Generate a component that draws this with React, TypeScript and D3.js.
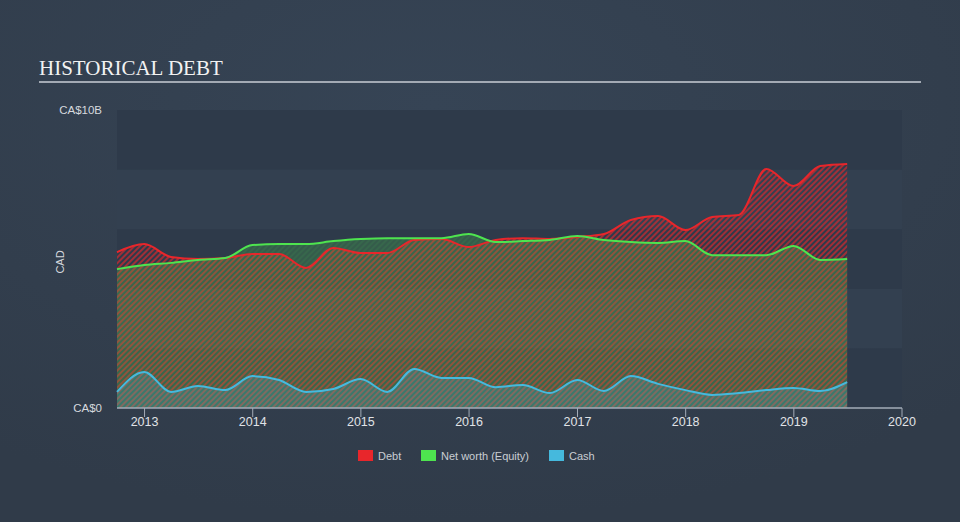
import React from "react";
import * as d3 from "d3";

const quarters: string[] = [
  "2012-09-30", "2012-12-31", "2013-03-31", "2013-06-30", "2013-09-30", "2013-12-31",
  "2014-03-31", "2014-06-30", "2014-09-30", "2014-12-31", "2015-03-31", "2015-06-30",
  "2015-09-30", "2015-12-31", "2016-03-31", "2016-06-30", "2016-09-30", "2016-12-31",
  "2017-03-31", "2017-06-30", "2017-09-30", "2017-12-31", "2018-03-31", "2018-06-30",
  "2018-09-30", "2018-12-31", "2019-03-31", "2019-06-30",
];

const debt: number[] = [
  5.23, 5.5, 5.07, 5.0, 5.03, 5.17, 5.17, 4.7, 5.37, 5.2, 5.2, 5.64, 5.67, 5.4,
  5.64, 5.7, 5.67, 5.74, 5.84, 6.31, 6.44, 5.97, 6.41, 6.48, 8.02, 7.45, 8.12, 8.19,
];

const equity: number[] = [
  4.66, 4.8, 4.87, 4.97, 5.03, 5.47, 5.5, 5.5, 5.6, 5.67, 5.7, 5.7, 5.7, 5.84,
  5.57, 5.6, 5.64, 5.77, 5.64, 5.57, 5.54, 5.6, 5.13, 5.13, 5.13, 5.44, 4.97, 5.0,
];

const cash: number[] = [
  0.54, 1.21, 0.54, 0.74, 0.6, 1.07, 0.94, 0.54, 0.64, 0.97, 0.54, 1.31, 1.01, 1.01,
  0.7, 0.77, 0.5, 0.94, 0.57, 1.07, 0.81, 0.6, 0.44, 0.5, 0.6, 0.67, 0.57, 0.87,
];

const xTicks: number[] = [2013, 2014, 2015, 2016, 2017, 2018, 2019, 2020];
const yTickLabels: string[] = ["CA$0", "CA$10B"];
const yTickValues: number[] = [0, 10];
const bandValues: number[] = [0, 2, 4, 6, 8];

const legendItems = [
  { label: "Debt", color: "#e8262b" },
  { label: "Net worth (Equity)", color: "#4ee44f" },
  { label: "Cash", color: "#45b9dd" },
];

const W = 960;
const H = 522;
const left = 117;
const right = 902;
const top = 110;
const bottom = 408;

export default function App() {
  const parse = d3.timeParse("%Y-%m-%d");
  const dates = quarters.map((q) => parse(q) as Date);
  const x = d3
    .scaleTime()
    .domain([parse("2012-09-30") as Date, new Date(2020, 0, 1)])
    .range([left, right]);
  const y = d3.scaleLinear().domain([0, 10]).range([bottom, top]);

  const idx = d3.range(dates.length);
  const curve = d3.curveMonotoneX;

  const areaOf = (vals: number[]) =>
    d3
      .area<number>()
      .x((i) => x(dates[i]))
      .y0(y(0))
      .y1((i) => y(vals[i]))
      .curve(curve)(idx) as string;
  const lineOf = (vals: number[]) =>
    d3
      .line<number>()
      .x((i) => x(dates[i]))
      .y((i) => y(vals[i]))
      .curve(curve)(idx) as string;

  const font = "'Liberation Sans', Arial, sans-serif";

  return (
    <svg
      width={W}
      height={H}
      style={{ position: "absolute", left: 0, top: 0 }}
    >
      <defs>
        <radialGradient id="bg" cx="45%" cy="20%" r="80%">
          <stop offset="0%" stopColor="#364455" />
          <stop offset="100%" stopColor="#303b49" />
        </radialGradient>
        <pattern
          id="debtHatch"
          width="4"
          height="4"
          patternUnits="userSpaceOnUse"
          patternTransform="rotate(45)"
        >
          <rect x="0" y="0" width="2" height="4" fill="#e8262b" fillOpacity="0.62" />
        </pattern>
        <pattern
          id="eqHatch"
          width="4"
          height="4"
          patternUnits="userSpaceOnUse"
          patternTransform="rotate(45)"
        >
          <rect x="0" y="0" width="4" height="4" fill="#4ee44f" fillOpacity="0.2" />
          <rect x="2" y="0" width="2" height="4" fill="#4ee44f" fillOpacity="0.08" />
        </pattern>
        <pattern
          id="cashHatch"
          width="4"
          height="4"
          patternUnits="userSpaceOnUse"
          patternTransform="rotate(45)"
        >
          <rect x="0" y="0" width="4" height="4" fill="#45b9dd" fillOpacity="0.22" />
        </pattern>
      </defs>
      <rect x={0} y={0} width={W} height={H} fill="url(#bg)" />

      <text
        x={39}
        y={75}
        fill="#f2f2f2"
        fontFamily="'Liberation Serif', 'Times New Roman', serif"
        fontSize={21}
      >
        HISTORICAL DEBT
      </text>
      <line x1={39} x2={921} y1={82} y2={82} stroke="#a3aab4" strokeWidth={2} />

      {bandValues.map((b, i) => (
        <rect
          key={b}
          x={left}
          width={right - left}
          y={y(b + 2)}
          height={y(b) - y(b + 2)}
          fill={i % 2 === 0 ? "#2e3a4a" : "#334050"}
        />
      ))}

      <path d={areaOf(debt)} fill="url(#debtHatch)" />
      <path d={areaOf(equity)} fill="url(#eqHatch)" />
      <path d={areaOf(cash)} fill="url(#cashHatch)" />

      <path d={lineOf(debt)} fill="none" stroke="#e8262b" strokeWidth={2} />
      <path d={lineOf(equity)} fill="none" stroke="#4ee44f" strokeWidth={2} />
      <path d={lineOf(cash)} fill="none" stroke="#45b9dd" strokeWidth={2} />

      <line x1={left} x2={right} y1={bottom} y2={bottom} stroke="#a3acb8" strokeWidth={1.5} />
      {xTicks.map((t) => {
        const tx = x(new Date(t, 0, 1));
        return (
          <g key={t}>
            <line x1={tx} x2={tx} y1={bottom} y2={bottom + 9} stroke="#a3acb8" strokeWidth={1} />
            <text
              x={tx}
              y={426}
              textAnchor="middle"
              fill="#e0e3e7"
              fontFamily={font}
              fontSize={12.5}
            >
              {t}
            </text>
          </g>
        );
      })}

      {yTickValues.map((v, i) => (
        <text
          key={v}
          x={102}
          y={y(v) + 4}
          textAnchor="end"
          fill="#d6d9de"
          fontFamily={font}
          fontSize={11.5}
        >
          {yTickLabels[i]}
        </text>
      ))}
      <text
        transform={`translate(64, ${(top + bottom) / 2 + 3}) rotate(-90)`}
        textAnchor="middle"
        fill="#d6d9de"
        fontFamily={font}
        fontSize={11}
      >
        CAD
      </text>

      {(() => {
        const positions = [358, 421, 549];
        return legendItems.map((it, i) => (
          <g key={it.label}>
            <rect x={positions[i]} y={450} width={15} height={11} fill={it.color} />
            <text
              x={positions[i] + 20}
              y={460}
              fill="#c9cdd3"
              fontFamily={font}
              fontSize={11}
            >
              {it.label}
            </text>
          </g>
        ));
      })()}
    </svg>
  );
}
